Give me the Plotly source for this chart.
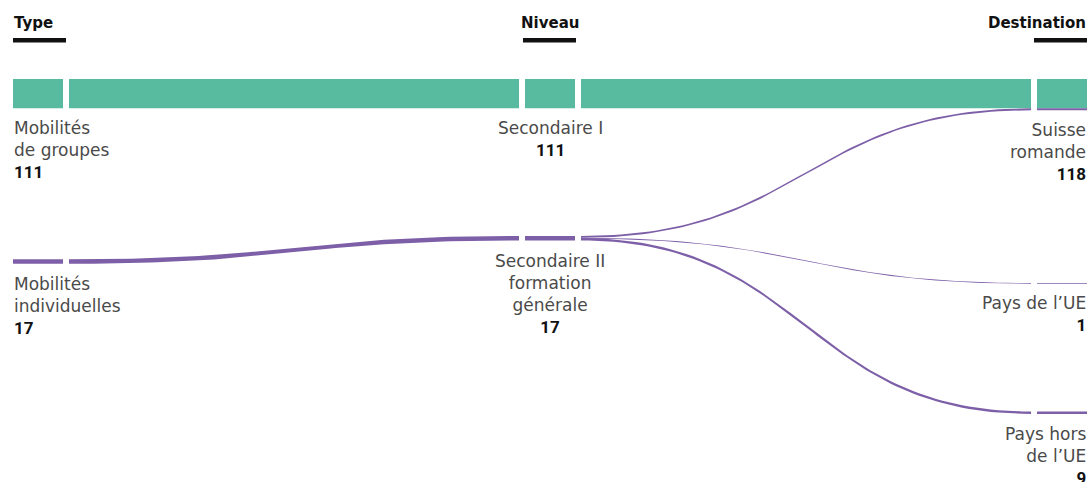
import numpy as np
import plotly.graph_objects as go

# ---------------- data ----------------
column_titles = ["Type", "Niveau", "Destination"]

type_nodes = ["Mobilités de groupes", "Mobilités individuelles"]
type_values = [111, 17]
level_nodes = ["Secondaire I", "Secondaire II formation générale"]
level_values = [111, 17]
dest_nodes = ["Suisse romande", "Pays de l’UE", "Pays hors de l’UE"]
dest_values = [118, 1, 9]

flow_source = ["Mobilités de groupes", "Mobilités individuelles", "Secondaire I",
               "Secondaire II formation générale", "Secondaire II formation générale",
               "Secondaire II formation générale"]
flow_target = ["Secondaire I", "Secondaire II formation générale", "Suisse romande",
               "Suisse romande", "Pays de l’UE", "Pays hors de l’UE"]
flow_values = [111, 17, 111, 7, 1, 9]
flow_group = ["groupes", "individuelles", "groupes", "individuelles", "individuelles", "individuelles"]

node_label_lines = {
    "Mobilités de groupes": ["Mobilités", "de groupes"],
    "Mobilités individuelles": ["Mobilités", "individuelles"],
    "Secondaire I": ["Secondaire I"],
    "Secondaire II formation générale": ["Secondaire II", "formation", "générale"],
    "Suisse romande": ["Suisse", "romande"],
    "Pays de l’UE": ["Pays de l’UE"],
    "Pays hors de l’UE": ["Pays hors", "de l’UE"],
}

# ---------------- layout / style ----------------
W, H = 1092, 482
COL_LEFT = [13, 525, 1037]
NODE_W = 50
GAP = 6
SCALE = 0.2645          # px per unit
MIN_TH = 0.8
NODE_TOP = {
    "Mobilités de groupes": 79, "Mobilités individuelles": 259.3,
    "Secondaire I": 79, "Secondaire II formation générale": 236,
    "Suisse romande": 79, "Pays de l’UE": 283, "Pays hors de l’UE": 411.5,
}
GROUP_COLOR = {"groupes": "#58bb9f", "individuelles": "#7d5fa8"}
LABEL_FONT = "DejaVu Sans"
NUM_FONT = "Roboto"
TXT = "#4a4a4a"

columns = [type_nodes, level_nodes, dest_nodes]
values = dict(zip(type_nodes + level_nodes + dest_nodes, type_values + level_values + dest_values))
node_col = {n: ci for ci, col in enumerate(columns) for n in col}

def th(v):
    return max(v * SCALE, MIN_TH)

fig = go.Figure()

def poly(xs, ys, color):
    fig.add_trace(go.Scatter(x=xs, y=ys, fill="toself", fillcolor=color, mode="lines",
                             line=dict(width=0, color=color), hoverinfo="skip", showlegend=False))

# links
src_off = {n: 0.0 for n in values}
tgt_off = {n: 0.0 for n in values}
t = np.linspace(0, 1, 80)
for s, tg, v, g in zip(flow_source, flow_target, flow_values, flow_group):
    x0 = COL_LEFT[node_col[s]] + NODE_W + GAP
    x1 = COL_LEFT[node_col[tg]] - GAP
    ys0 = NODE_TOP[s] + src_off[s]
    yt0 = NODE_TOP[tg] + tgt_off[tg]
    h = th(v)
    src_off[s] += v * SCALE
    tgt_off[tg] += v * SCALE
    xm = (x0 + x1) / 2
    bx = (1 - t) ** 3 * x0 + 3 * (1 - t) ** 2 * t * xm + 3 * (1 - t) * t ** 2 * xm + t ** 3 * x1
    by = lambda a, b: (1 - t) ** 3 * a + 3 * (1 - t) ** 2 * t * a + 3 * (1 - t) * t ** 2 * b + t ** 3 * b
    top = by(ys0, yt0)
    bot = by(ys0 + h, yt0 + h)
    xs = list(bx) + list(bx[::-1]) + [bx[0]]
    ys = list(top) + list(bot[::-1]) + [top[0]]
    poly(xs, ys, GROUP_COLOR[g])

# nodes (stacked segments by group)
for n in values:
    ci = node_col[n]
    if ci == 0:
        segs = [(v, g) for s, v, g in zip(flow_source, flow_values, flow_group) if s == n]
    else:
        segs = [(v, g) for tg, v, g in zip(flow_target, flow_values, flow_group) if tg == n]
    y = NODE_TOP[n]
    xl = COL_LEFT[ci]
    xr = xl + NODE_W
    for v, g in segs:
        h = th(v)
        poly([xl, xr, xr, xl, xl], [y, y, y + h, y + h, y], GROUP_COLOR[g])
        y += v * SCALE

# labels
anns = []
for n in values:
    ci = node_col[n]
    bottom = NODE_TOP[n] + values[n] * SCALE
    text = ("<br>".join(node_label_lines[n])
            + f"<br><span style='font-family:{NUM_FONT};font-weight:bold;color:#111111'>{values[n]}</span>")
    if ci == 0:
        x, xa, al = COL_LEFT[ci] - 1, "left", "left"
    elif ci == 1:
        x, xa, al = COL_LEFT[ci] + NODE_W / 2, "center", "center"
    else:
        x, xa, al = COL_LEFT[ci] + NODE_W + 1, "right", "right"
    anns.append(dict(x=x, y=bottom + 8, xref="x", yref="y", text=text, showarrow=False,
                     xanchor=xa, yanchor="top", align=al,
                     font=dict(family=LABEL_FONT, size=17, color=TXT)))

# column titles + underline
shapes = []
for ci, title in enumerate(column_titles):
    if ci == 0:
        x, xa = COL_LEFT[ci] - 1, "left"
        b0 = COL_LEFT[ci]
    elif ci == 1:
        x, xa = COL_LEFT[ci] + NODE_W / 2, "center"
        b0 = COL_LEFT[ci] + NODE_W / 2 - 27
    else:
        x, xa = COL_LEFT[ci] + NODE_W + 1, "right"
        b0 = COL_LEFT[ci] + NODE_W - 53
    anns.append(dict(x=x, y=23, xref="x", yref="y", text=f"<b>{title}</b>", showarrow=False,
                     xanchor=xa, yanchor="middle",
                     font=dict(family=LABEL_FONT, size=15, color="#111111")))
    shapes.append(dict(type="rect", xref="x", yref="y", x0=b0, x1=b0 + 53, y0=38, y1=42.5,
                       fillcolor="#111111", line=dict(width=0)))

fig.update_layout(
    width=W, height=H, margin=dict(l=0, r=0, t=0, b=0),
    paper_bgcolor="white", plot_bgcolor="white",
    xaxis=dict(range=[0, W], visible=False, fixedrange=True),
    yaxis=dict(range=[H, 0], visible=False, fixedrange=True),
    annotations=anns, shapes=shapes, showlegend=False,
)
fig.write_html("out.html", config={"displayModeBar": False},
               post_script="document.body.style.margin='0';document.body.style.overflow='hidden';")
